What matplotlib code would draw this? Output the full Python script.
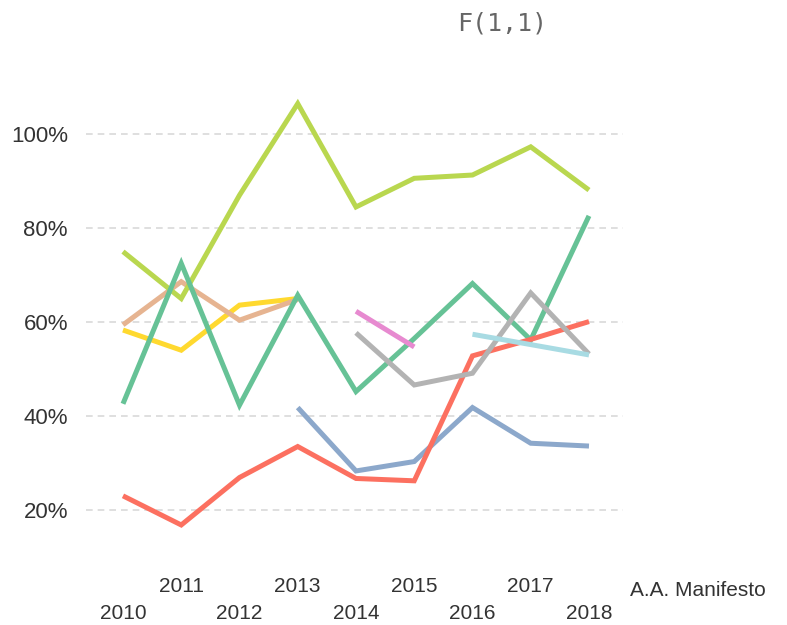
import numpy as np
import matplotlib.pyplot as plt

years = np.arange(2010, 2019)

# values in percent, None where a series has no value
lime = [75.0, 65.0, 87.0, 106.5, 84.5, 90.6, 91.3, 97.3, 88.1]
teal = [42.6, 72.5, 42.3, 65.7, 45.2, 56.5, 68.2, 56.2, 82.6]
red = [23.0, 16.8, 26.9, 33.5, 26.7, 26.2, 52.8, 56.3, 60.1]
blue = [None, None, None, 41.8, 28.3, 30.3, 41.8, 34.2, 33.6]
yellow = [58.3, 54.0, 63.6, 65.0, None, None, None, None, None]
tan = [59.4, 68.6, 60.4, 64.8, None, None, None, None, None]
pink = [None, None, None, None, 62.3, 54.7, None, None, None]
gray = [None, None, None, None, 57.7, 46.6, 49.1, 66.2, 53.2]
light_blue = [None, None, None, None, None, None, 57.4, 55.2, 53.0]

series = [
    (yellow, "#ffd92f"),
    (tan, "#e6b491"),
    (lime, "#b9d74f"),
    (teal, "#66c296"),
    (blue, "#8ca8cb"),
    (red, "#fc7060"),
    (pink, "#e78ad0"),
    (gray, "#b3b3b3"),
    (light_blue, "#a8dbe3"),
]

y_ticks = [20, 40, 60, 80, 100]

fig = plt.figure(figsize=(7.87, 6.25), dpi=100)
ax = fig.add_axes([86 / 787, 1 - 540 / 625, (623 - 86) / 787, 450 / 625])

for values, color in series:
    v = np.array([np.nan if x is None else x for x in values], dtype=float)
    ax.plot(years, v, color=color, linewidth=3.6, solid_capstyle="butt",
            solid_joinstyle="miter", zorder=3)

ax.set_xlim(2009.365, 2018.584)
ax.set_ylim(13.6, 109.4)

for y in y_ticks:
    ax.axhline(y, color="#d9d9d9", linewidth=1.2, linestyle=(0, (4, 3)), zorder=1)

ax.set_yticks(y_ticks)
ax.set_yticklabels([f"{y}%" for y in y_ticks], fontsize=16, color="#333333",
                   family=["Liberation Sans", "DejaVu Sans"])
ax.tick_params(axis="y", length=0, pad=13)

# even years low, odd years higher
ax.set_xticks(years[::2])
ax.set_xticklabels([str(y) for y in years[::2]])
ax.set_xticks(years[1::2], minor=True)
ax.set_xticklabels([str(y) for y in years[1::2]], minor=True)
narrow = ["Liberation Sans Narrow", "Liberation Sans", "DejaVu Sans"]
for lab in ax.get_xticklabels() + ax.get_xticklabels(minor=True):
    lab.set_fontsize(15)
    lab.set_color("#333333")
    lab.set_family(narrow)
ax.tick_params(axis="x", which="major", length=0, pad=46)
ax.tick_params(axis="x", which="minor", length=0, pad=27)

for s in ax.spines.values():
    s.set_visible(False)

fig.text(630 / 787, 1 - 590 / 625, "A.A. Manifesto", fontsize=15, color="#333333",
         family=narrow, ha="left", va="center")
fig.text(502 / 787, 1 - 23 / 625, "F(1,1)", fontsize=18, color="#666666",
         family=["DejaVu Sans Mono"], ha="center", va="center")

fig.savefig("out.png", dpi=100)
